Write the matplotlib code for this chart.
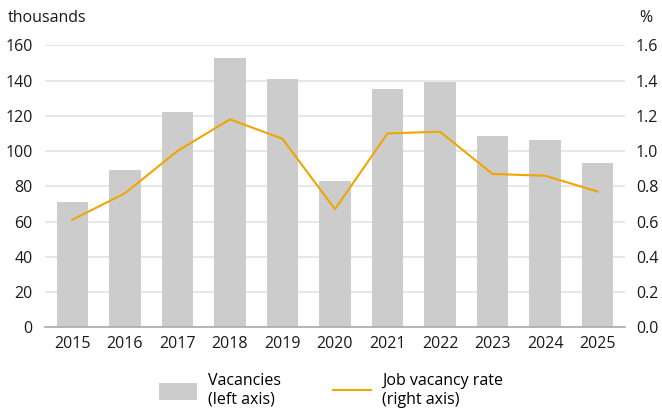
import matplotlib.pyplot as plt
from matplotlib.patches import Patch
from matplotlib.lines import Line2D

years = ['2015', '2016', '2017', '2018', '2019', '2020', '2021', '2022', '2023', '2024', '2025']
vacancies = [71, 89, 122, 153, 141, 83, 135.5, 139.5, 108.5, 106.5, 93.5]
vacancy_rate = [0.61, 0.76, 1.00, 1.18, 1.07, 0.67, 1.10, 1.11, 0.87, 0.86, 0.77]
left_ticks = [0, 20, 40, 60, 80, 100, 120, 140, 160]
right_ticks = [0.0, 0.2, 0.4, 0.6, 0.8, 1.0, 1.2, 1.4, 1.6]

plt.rcParams['font.family'] = ['Open Sans', 'DejaVu Sans']
plt.rcParams['font.size'] = 11.5

bar_col = '#cccccc'
line_col = '#f0a500'

fig = plt.figure(figsize=(6.62, 4.09), dpi=100, facecolor='white')
ax = fig.add_axes([0.068, 0.2, 0.876, 0.689])
x = range(len(years))

ax.bar(x, vacancies, width=0.6, color=bar_col, zorder=2)
ax.set_ylim(0, 160)
ax.set_xlim(-0.52, 10.52)
ax.set_yticks(left_ticks)
ax.set_xticks(list(x))
ax.set_xticklabels(years)
ax.grid(axis='y', color='#e3e3e3', linewidth=1.2, zorder=0)
ax.set_axisbelow(True)
for s in ['top', 'right', 'left']:
    ax.spines[s].set_visible(False)
ax.spines['bottom'].set_color('#aaaaaa')
ax.spines['bottom'].set_linewidth(1.2)
ax.tick_params(length=0, pad=6, colors='#1a1a1a')
ax.tick_params(axis='y', pad=9)

ax2 = ax.twinx()
ax2.plot(x, vacancy_rate, color=line_col, linewidth=1.5, zorder=3)
ax2.set_ylim(0, 1.6)
ax2.set_yticks(right_ticks)
ax2.set_yticklabels(['%.1f' % t for t in right_ticks])
for s in ['top', 'right', 'left', 'bottom']:
    ax2.spines[s].set_visible(False)
ax2.tick_params(length=0, pad=8, colors='#1a1a1a')

fig.text(0.012, 0.955, 'thousands', ha='left', va='center', color='#1a1a1a')
fig.text(0.985, 0.955, '%', ha='right', va='center', color='#1a1a1a')

handles = [Patch(facecolor=bar_col, edgecolor='none'),
           Line2D([0], [0], color=line_col, linewidth=1.5)]
fig.legend(handles, ['Vacancies\n(left axis)', 'Job vacancy rate\n(right axis)'],
           loc='center', bbox_to_anchor=(0.5, 0.045), ncol=2, frameon=False,
           handlelength=2.4, handleheight=1.3, columnspacing=3.2, handletextpad=0.7,
           labelspacing=0.3)

plt.savefig('out.png', dpi=100, facecolor='white')
